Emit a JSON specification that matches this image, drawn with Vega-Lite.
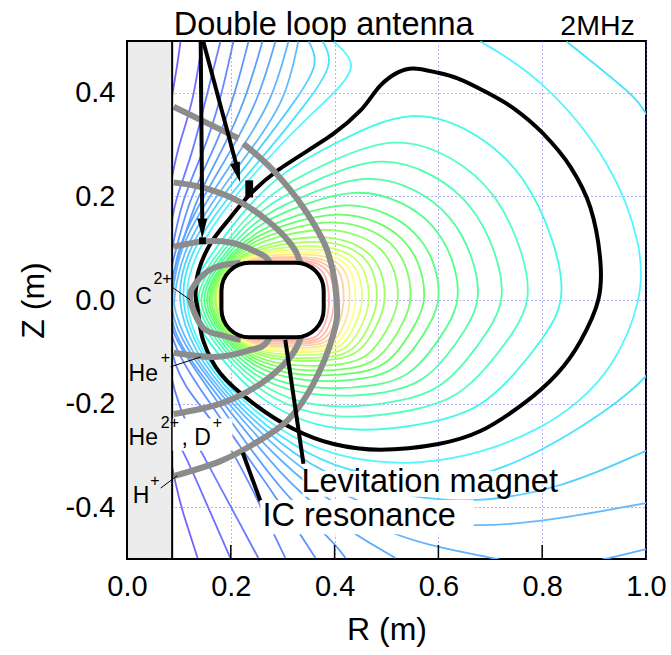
{"$schema":"https://vega.github.io/schema/vega-lite/v6.json","width":519,"height":518,"autosize":"none","padding":{"left":127,"top":41,"right":25,"bottom":96},"background":"white","view":{"stroke":"#000","strokeWidth":2,"fill":"white"},
"config":{"font":"Liberation Sans","text":{"font":"Liberation Sans"}},
"datasets":{
"contours":[
{"c":0,"r":0.103,"z":0.499},{"c":0,"r":0.097,"z":0.453},{"c":0,"r":0.088,"z":0.404},{"c":0,"r":0.03,"z":0.03},{"c":0,"r":0.088,"z":-0.349},{"c":0,"r":0.113,"z":-0.426},{"c":0,"r":0.136,"z":-0.498},
{"c":1,"r":0.145,"z":0.499},{"c":1,"r":0.128,"z":0.385},{"c":1,"r":0.103,"z":0.308},{"c":1,"r":0.088,"z":0.256},{"c":1,"r":0.05,"z":0},{"c":1,"r":0.088,"z":-0.262},{"c":1,"r":0.109,"z":-0.291},{"c":1,"r":0.151,"z":-0.388},{"c":1,"r":0.199,"z":-0.498},
{"c":2,"r":0.18,"z":0.499},{"c":2,"r":0.151,"z":0.385},{"c":2,"r":0.128,"z":0.289},{"c":2,"r":0.093,"z":0.192},{"c":2,"r":0.088,"z":0.163},{"c":2,"r":0.06,"z":0},{"c":2,"r":0.088,"z":-0.191},{"c":2,"r":0.142,"z":-0.291},{"c":2,"r":0.199,"z":-0.397},{"c":2,"r":0.253,"z":-0.498},
{"c":3,"r":0.205,"z":0.499},{"c":3,"r":0.18,"z":0.385},{"c":3,"r":0.149,"z":0.289},{"c":3,"r":0.105,"z":0.192},{"c":3,"r":0.088,"z":0.105},{"c":3,"r":0.07,"z":0},{"c":3,"r":0.088,"z":-0.137},{"c":3,"r":0.142,"z":-0.204},{"c":3,"r":0.199,"z":-0.282},{"c":3,"r":0.248,"z":-0.378},{"c":3,"r":0.305,"z":-0.498},
{"c":4,"r":0.234,"z":0.499},{"c":4,"r":0.205,"z":0.385},{"c":4,"r":0.167,"z":0.289},{"c":4,"r":0.118,"z":0.192},{"c":4,"r":0.088,"z":0.072},{"c":4,"r":0.07,"z":0},{"c":4,"r":0.088,"z":-0.094},{"c":4,"r":0.157,"z":-0.195},{"c":4,"r":0.199,"z":-0.256},{"c":4,"r":0.286,"z":-0.378},{"c":4,"r":0.363,"z":-0.498},
{"c":5,"r":0.261,"z":0.499},{"c":5,"r":0.228,"z":0.385},{"c":5,"r":0.184,"z":0.289},{"c":5,"r":0.13,"z":0.192},{"c":5,"r":0.088,"z":0.047},{"c":5,"r":0.075,"z":0},{"c":5,"r":0.088,"z":-0.069},{"c":5,"r":0.122,"z":-0.121},{"c":5,"r":0.199,"z":-0.233},{"c":5,"r":0.296,"z":-0.369},{"c":5,"r":0.4,"z":-0.469},{"c":5,"r":0.421,"z":-0.498},
{"c":6,"r":0.286,"z":0.499},{"c":6,"r":0.253,"z":0.385},{"c":6,"r":0.201,"z":0.289},{"c":6,"r":0.142,"z":0.192},{"c":6,"r":0.095,"z":0.095},{"c":6,"r":0.088,"z":0.028},{"c":6,"r":0.08,"z":0},{"c":6,"r":0.088,"z":-0.05},{"c":6,"r":0.107,"z":-0.098},{"c":6,"r":0.199,"z":-0.216},{"c":6,"r":0.296,"z":-0.339},{"c":6,"r":0.4,"z":-0.43},{"c":6,"r":0.517,"z":-0.498},
{"c":7,"r":0.311,"z":0.499},{"c":7,"r":0.28,"z":0.385},{"c":7,"r":0.219,"z":0.289},{"c":7,"r":0.153,"z":0.192},{"c":7,"r":0.099,"z":0.095},{"c":7,"r":0.088,"z":0.012},{"c":7,"r":0.085,"z":0},{"c":7,"r":0.088,"z":-0.034},{"c":7,"r":0.115,"z":-0.098},{"c":7,"r":0.199,"z":-0.206},{"c":7,"r":0.296,"z":-0.314},{"c":7,"r":0.4,"z":-0.397},{"c":7,"r":0.508,"z":-0.452},{"c":7,"r":0.604,"z":-0.479},{"c":7,"r":0.706,"z":-0.498},{"c":7,"r":0.816,"z":-0.523},{"c":7,"r":0.932,"z":-0.498},{"c":7,"r":1.0,"z":-0.481},
{"c":8,"r":0.33,"z":0.499},{"c":8,"r":0.306,"z":0.385},{"c":8,"r":0.238,"z":0.289},{"c":8,"r":0.165,"z":0.192},{"c":8,"r":0.107,"z":0.095},{"c":8,"r":0.09,"z":0.003},{"c":8,"r":0.09,"z":-0.017},{"c":8,"r":0.12,"z":-0.098},{"c":8,"r":0.199,"z":-0.198},{"c":8,"r":0.296,"z":-0.295},{"c":8,"r":0.4,"z":-0.372},{"c":8,"r":0.527,"z":-0.421},{"c":8,"r":0.668,"z":-0.44},{"c":8,"r":0.816,"z":-0.426},{"c":8,"r":1.0,"z":-0.392},
{"c":9,"r":0.35,"z":0.499},{"c":9,"r":0.372,"z":0.457},{"c":9,"r":0.325,"z":0.385},{"c":9,"r":0.253,"z":0.289},{"c":9,"r":0.176,"z":0.192},{"c":9,"r":0.115,"z":0.095},{"c":9,"r":0.093,"z":0},{"c":9,"r":0.128,"z":-0.098},{"c":9,"r":0.199,"z":-0.191},{"c":9,"r":0.296,"z":-0.28},{"c":9,"r":0.4,"z":-0.349},{"c":9,"r":0.556,"z":-0.382},{"c":9,"r":0.668,"z":-0.392},{"c":9,"r":0.835,"z":-0.365},{"c":9,"r":1.0,"z":-0.291},
{"c":10,"r":0.377,"z":0.499},{"c":10,"r":0.4,"z":0.457},{"c":10,"r":0.35,"z":0.385},{"c":10,"r":0.273,"z":0.289},{"c":10,"r":0.188,"z":0.192},{"c":10,"r":0.122,"z":0.095},{"c":10,"r":0.099,"z":0},{"c":10,"r":0.136,"z":-0.098},{"c":10,"r":0.199,"z":-0.183},{"c":10,"r":0.296,"z":-0.268},{"c":10,"r":0.4,"z":-0.324},{"c":10,"r":0.508,"z":-0.345},{"c":10,"r":0.604,"z":-0.349},{"c":10,"r":0.733,"z":-0.334},{"c":10,"r":1.0,"z":-0.171},{"c":10,"r":1.07,"z":-0.05},{"c":10,"r":1.08,"z":0.2},{"c":10,"r":1.0,"z":0.368},{"c":10,"r":0.97,"z":0.4},{"c":10,"r":0.847,"z":0.499},
{"c":11,"r":0.398,"z":0.499},{"c":11,"r":0.445,"z":0.457},{"c":11,"r":0.411,"z":0.41},{"c":11,"r":0.348,"z":0.352},{"c":11,"r":0.29,"z":0.294},{"c":11,"r":0.199,"z":0.192},{"c":11,"r":0.132,"z":0.095},{"c":11,"r":0.105,"z":0},{"c":11,"r":0.142,"z":-0.098},{"c":11,"r":0.199,"z":-0.175},{"c":11,"r":0.296,"z":-0.256},{"c":11,"r":0.4,"z":-0.301},{"c":11,"r":0.488,"z":-0.314},{"c":11,"r":0.565,"z":-0.316},{"c":11,"r":0.681,"z":-0.297},{"c":11,"r":0.797,"z":-0.249},{"c":11,"r":0.868,"z":-0.2},{"c":11,"r":0.937,"z":-0.131},{"c":11,"r":0.993,"z":0},{"c":11,"r":0.993,"z":0.101},{"c":11,"r":0.937,"z":0.263},{"c":11,"r":0.801,"z":0.428},{"c":11,"r":0.681,"z":0.499}
],
"closed":[
{"c":12,"r":0.802,"z":-0.075},{"c":12,"r":0.848,"z":0},{"c":12,"r":0.824,"z":0.115},{"c":12,"r":0.768,"z":0.24},{"c":12,"r":0.681,"z":0.321},{"c":12,"r":0.552,"z":0.376},{"c":12,"r":0.402,"z":0.304},{"c":12,"r":0.296,"z":0.246},{"c":12,"r":0.219,"z":0.167},{"c":12,"r":0.151,"z":0.072},{"c":12,"r":0.107,"z":0},{"c":12,"r":0.151,"z":-0.075},{"c":12,"r":0.244,"z":-0.191},{"c":12,"r":0.392,"z":-0.263},{"c":12,"r":0.598,"z":-0.239},{"c":12,"r":0.687,"z":-0.204},{"c":12,"r":0.745,"z":-0.146},
{"c":13,"r":0.742,"z":-0.068},{"c":13,"r":0.782,"z":0},{"c":13,"r":0.76,"z":0.104},{"c":13,"r":0.71,"z":0.208},{"c":13,"r":0.632,"z":0.276},{"c":13,"r":0.516,"z":0.321},{"c":13,"r":0.379,"z":0.262},{"c":13,"r":0.284,"z":0.213},{"c":13,"r":0.216,"z":0.146},{"c":13,"r":0.156,"z":0.066},{"c":13,"r":0.118,"z":0},{"c":13,"r":0.157,"z":-0.07},{"c":13,"r":0.242,"z":-0.174},{"c":13,"r":0.377,"z":-0.236},{"c":13,"r":0.563,"z":-0.215},{"c":13,"r":0.641,"z":-0.184},{"c":13,"r":0.692,"z":-0.132},
{"c":14,"r":0.695,"z":-0.062},{"c":14,"r":0.731,"z":0},{"c":14,"r":0.711,"z":0.096},{"c":14,"r":0.666,"z":0.184},{"c":14,"r":0.595,"z":0.243},{"c":14,"r":0.489,"z":0.282},{"c":14,"r":0.362,"z":0.231},{"c":14,"r":0.276,"z":0.189},{"c":14,"r":0.213,"z":0.131},{"c":14,"r":0.159,"z":0.061},{"c":14,"r":0.126,"z":0},{"c":14,"r":0.161,"z":-0.066},{"c":14,"r":0.24,"z":-0.161},{"c":14,"r":0.365,"z":-0.215},{"c":14,"r":0.536,"z":-0.197},{"c":14,"r":0.605,"z":-0.169},{"c":14,"r":0.651,"z":-0.122},
{"c":15,"r":0.653,"z":-0.057},{"c":15,"r":0.684,"z":0},{"c":15,"r":0.666,"z":0.089},{"c":15,"r":0.625,"z":0.163},{"c":15,"r":0.561,"z":0.214},{"c":15,"r":0.464,"z":0.246},{"c":15,"r":0.346,"z":0.204},{"c":15,"r":0.268,"z":0.168},{"c":15,"r":0.211,"z":0.118},{"c":15,"r":0.163,"z":0.057},{"c":15,"r":0.133,"z":0},{"c":15,"r":0.165,"z":-0.063},{"c":15,"r":0.238,"z":-0.15},{"c":15,"r":0.355,"z":-0.19},{"c":15,"r":0.511,"z":-0.181},{"c":15,"r":0.573,"z":-0.155},{"c":15,"r":0.614,"z":-0.112},
{"c":16,"r":0.617,"z":-0.053},{"c":16,"r":0.644,"z":0},{"c":16,"r":0.629,"z":0.083},{"c":16,"r":0.591,"z":0.147},{"c":16,"r":0.532,"z":0.191},{"c":16,"r":0.442,"z":0.217},{"c":16,"r":0.332,"z":0.182},{"c":16,"r":0.261,"z":0.151},{"c":16,"r":0.209,"z":0.107},{"c":16,"r":0.165,"z":0.053},{"c":16,"r":0.14,"z":0},{"c":16,"r":0.169,"z":-0.06},{"c":16,"r":0.237,"z":-0.14},{"c":16,"r":0.346,"z":-0.175},{"c":16,"r":0.49,"z":-0.167},{"c":16,"r":0.545,"z":-0.144},{"c":16,"r":0.582,"z":-0.104},
{"c":17,"r":0.583,"z":-0.049},{"c":17,"r":0.606,"z":0},{"c":17,"r":0.593,"z":0.077},{"c":17,"r":0.558,"z":0.131},{"c":17,"r":0.504,"z":0.169},{"c":17,"r":0.422,"z":0.191},{"c":17,"r":0.32,"z":0.162},{"c":17,"r":0.254,"z":0.135},{"c":17,"r":0.207,"z":0.097},{"c":17,"r":0.168,"z":0.049},{"c":17,"r":0.146,"z":0},{"c":17,"r":0.172,"z":-0.057},{"c":17,"r":0.236,"z":-0.13},{"c":17,"r":0.337,"z":-0.16},{"c":17,"r":0.47,"z":-0.154},{"c":17,"r":0.519,"z":-0.132},{"c":17,"r":0.552,"z":-0.097},
{"c":18,"r":0.557,"z":-0.046},{"c":18,"r":0.578,"z":0},{"c":18,"r":0.565,"z":0.072},{"c":18,"r":0.533,"z":0.12},{"c":18,"r":0.483,"z":0.153},{"c":18,"r":0.407,"z":0.172},{"c":18,"r":0.31,"z":0.148},{"c":18,"r":0.249,"z":0.124},{"c":18,"r":0.206,"z":0.09},{"c":18,"r":0.17,"z":0.047},{"c":18,"r":0.151,"z":0},{"c":18,"r":0.175,"z":-0.055},{"c":18,"r":0.235,"z":-0.123},{"c":18,"r":0.331,"z":-0.149},{"c":18,"r":0.455,"z":-0.143},{"c":18,"r":0.499,"z":-0.124},{"c":18,"r":0.529,"z":-0.091},
{"c":19,"r":0.533,"z":-0.043},{"c":19,"r":0.551,"z":0},{"c":19,"r":0.54,"z":0.068},{"c":19,"r":0.511,"z":0.111},{"c":19,"r":0.464,"z":0.14},{"c":19,"r":0.393,"z":0.156},{"c":19,"r":0.301,"z":0.135},{"c":19,"r":0.245,"z":0.114},{"c":19,"r":0.204,"z":0.084},{"c":19,"r":0.172,"z":0.044},{"c":19,"r":0.155,"z":0},{"c":19,"r":0.177,"z":-0.053},{"c":19,"r":0.234,"z":-0.116},{"c":19,"r":0.325,"z":-0.139},{"c":19,"r":0.441,"z":-0.134},{"c":19,"r":0.481,"z":-0.116},{"c":19,"r":0.509,"z":-0.085},
{"c":20,"r":0.51,"z":-0.041},{"c":20,"r":0.526,"z":0},{"c":20,"r":0.516,"z":0.064},{"c":20,"r":0.489,"z":0.102},{"c":20,"r":0.446,"z":0.127},{"c":20,"r":0.379,"z":0.14},{"c":20,"r":0.292,"z":0.124},{"c":20,"r":0.24,"z":0.104},{"c":20,"r":0.203,"z":0.078},{"c":20,"r":0.174,"z":0.042},{"c":20,"r":0.159,"z":0},{"c":20,"r":0.179,"z":-0.051},{"c":20,"r":0.233,"z":-0.11},{"c":20,"r":0.319,"z":-0.13},{"c":20,"r":0.428,"z":-0.125},{"c":20,"r":0.463,"z":-0.109},{"c":20,"r":0.488,"z":-0.08},
{"c":21,"r":0.487,"z":-0.038},{"c":21,"r":0.5,"z":0},{"c":21,"r":0.491,"z":0.06},{"c":21,"r":0.466,"z":0.093},{"c":21,"r":0.427,"z":0.115},{"c":21,"r":0.365,"z":0.125},{"c":21,"r":0.283,"z":0.112},{"c":21,"r":0.236,"z":0.095},{"c":21,"r":0.202,"z":0.073},{"c":21,"r":0.175,"z":0.039},{"c":21,"r":0.165,"z":0},{"c":21,"r":0.181,"z":-0.049},{"c":21,"r":0.232,"z":-0.104},{"c":21,"r":0.313,"z":-0.12},{"c":21,"r":0.414,"z":-0.116},{"c":21,"r":0.445,"z":-0.101},{"c":21,"r":0.468,"z":-0.075},
{"c":22,"r":0.473,"z":-0.036},{"c":22,"r":0.485,"z":0},{"c":22,"r":0.476,"z":0.058},{"c":22,"r":0.453,"z":0.088},{"c":22,"r":0.416,"z":0.108},{"c":22,"r":0.357,"z":0.115},{"c":22,"r":0.278,"z":0.105},{"c":22,"r":0.233,"z":0.09},{"c":22,"r":0.201,"z":0.069},{"c":22,"r":0.177,"z":0.038},{"c":22,"r":0.168,"z":0},{"c":22,"r":0.183,"z":-0.048},{"c":22,"r":0.232,"z":-0.1},{"c":22,"r":0.31,"z":-0.114},{"c":22,"r":0.406,"z":-0.111},{"c":22,"r":0.435,"z":-0.096},{"c":22,"r":0.456,"z":-0.072},
{"c":23,"r":0.459,"z":-0.035},{"c":23,"r":0.469,"z":0},{"c":23,"r":0.461,"z":0.055},{"c":23,"r":0.439,"z":0.083},{"c":23,"r":0.404,"z":0.101},{"c":23,"r":0.348,"z":0.106},{"c":23,"r":0.273,"z":0.099},{"c":23,"r":0.231,"z":0.085},{"c":23,"r":0.2,"z":0.066},{"c":23,"r":0.178,"z":0.036},{"c":23,"r":0.17,"z":0},{"c":23,"r":0.184,"z":-0.047},{"c":23,"r":0.231,"z":-0.096},{"c":23,"r":0.306,"z":-0.108},{"c":23,"r":0.398,"z":-0.105},{"c":23,"r":0.424,"z":-0.092},{"c":23,"r":0.443,"z":-0.068},
{"c":24,"r":0.446,"z":-0.033},{"c":24,"r":0.456,"z":0},{"c":24,"r":0.448,"z":0.053},{"c":24,"r":0.427,"z":0.079},{"c":24,"r":0.394,"z":0.096},{"c":24,"r":0.341,"z":0.099},{"c":24,"r":0.268,"z":0.094},{"c":24,"r":0.228,"z":0.081},{"c":24,"r":0.2,"z":0.064},{"c":24,"r":0.179,"z":0.035},{"c":24,"r":0.172,"z":0},{"c":24,"r":0.185,"z":-0.046},{"c":24,"r":0.231,"z":-0.092},{"c":24,"r":0.303,"z":-0.102},{"c":24,"r":0.39,"z":-0.1},{"c":24,"r":0.414,"z":-0.088},{"c":24,"r":0.432,"z":-0.066},
{"c":25,"r":0.436,"z":-0.032},{"c":25,"r":0.442,"z":0},{"c":25,"r":0.437,"z":0.051},{"c":25,"r":0.417,"z":0.076},{"c":25,"r":0.385,"z":0.091},{"c":25,"r":0.335,"z":0.094},{"c":25,"r":0.264,"z":0.09},{"c":25,"r":0.226,"z":0.078},{"c":25,"r":0.199,"z":0.062},{"c":25,"r":0.179,"z":0.034},{"c":25,"r":0.173,"z":0},{"c":25,"r":0.186,"z":-0.045},{"c":25,"r":0.23,"z":-0.089},{"c":25,"r":0.301,"z":-0.098},{"c":25,"r":0.384,"z":-0.096},{"c":25,"r":0.406,"z":-0.084},{"c":25,"r":0.423,"z":-0.063},
{"c":26,"r":0.425,"z":-0.031},{"c":26,"r":0.431,"z":0},{"c":26,"r":0.426,"z":0.049},{"c":26,"r":0.407,"z":0.073},{"c":26,"r":0.377,"z":0.087},{"c":26,"r":0.328,"z":0.089},{"c":26,"r":0.26,"z":0.086},{"c":26,"r":0.224,"z":0.075},{"c":26,"r":0.199,"z":0.06},{"c":26,"r":0.18,"z":0.033},{"c":26,"r":0.175,"z":0},{"c":26,"r":0.187,"z":-0.044},{"c":26,"r":0.23,"z":-0.086},{"c":26,"r":0.298,"z":-0.093},{"c":26,"r":0.378,"z":-0.092},{"c":26,"r":0.398,"z":-0.081},{"c":26,"r":0.413,"z":-0.061},
{"c":27,"r":0.414,"z":-0.029},{"c":27,"r":0.419,"z":0},{"c":27,"r":0.415,"z":0.048},{"c":27,"r":0.397,"z":0.07},{"c":27,"r":0.368,"z":0.082},{"c":27,"r":0.322,"z":0.084},{"c":27,"r":0.256,"z":0.082},{"c":27,"r":0.222,"z":0.072},{"c":27,"r":0.198,"z":0.058},{"c":27,"r":0.181,"z":0.032},{"c":27,"r":0.176,"z":0},{"c":27,"r":0.188,"z":-0.043},{"c":27,"r":0.229,"z":-0.083},{"c":27,"r":0.295,"z":-0.089},{"c":27,"r":0.372,"z":-0.088},{"c":27,"r":0.39,"z":-0.077},{"c":27,"r":0.404,"z":-0.058},
{"c":28,"r":0.405,"z":-0.028},{"c":28,"r":0.41,"z":0},{"c":28,"r":0.405,"z":0.046},{"c":28,"r":0.388,"z":0.067},{"c":28,"r":0.361,"z":0.079},{"c":28,"r":0.317,"z":0.081},{"c":28,"r":0.253,"z":0.079},{"c":28,"r":0.22,"z":0.069},{"c":28,"r":0.198,"z":0.056},{"c":28,"r":0.182,"z":0.031},{"c":28,"r":0.178,"z":0},{"c":28,"r":0.189,"z":-0.042},{"c":28,"r":0.229,"z":-0.081},{"c":28,"r":0.293,"z":-0.085},{"c":28,"r":0.367,"z":-0.084},{"c":28,"r":0.383,"z":-0.074},{"c":28,"r":0.396,"z":-0.056},
{"c":29,"r":0.397,"z":-0.027},{"c":29,"r":0.4,"z":0},{"c":29,"r":0.396,"z":0.044},{"c":29,"r":0.38,"z":0.065},{"c":29,"r":0.354,"z":0.076},{"c":29,"r":0.312,"z":0.077},{"c":29,"r":0.249,"z":0.076},{"c":29,"r":0.219,"z":0.067},{"c":29,"r":0.197,"z":0.055},{"c":29,"r":0.182,"z":0.03},{"c":29,"r":0.179,"z":0},{"c":29,"r":0.19,"z":-0.042},{"c":29,"r":0.229,"z":-0.078},{"c":29,"r":0.291,"z":-0.081},{"c":29,"r":0.361,"z":-0.081},{"c":29,"r":0.376,"z":-0.071},{"c":29,"r":0.388,"z":-0.054},
{"c":30,"r":0.388,"z":-0.026},{"c":30,"r":0.39,"z":0},{"c":30,"r":0.386,"z":0.043},{"c":30,"r":0.371,"z":0.063},{"c":30,"r":0.347,"z":0.074},{"c":30,"r":0.306,"z":0.074},{"c":30,"r":0.246,"z":0.074},{"c":30,"r":0.217,"z":0.065},{"c":30,"r":0.197,"z":0.054},{"c":30,"r":0.183,"z":0.029},{"c":30,"r":0.18,"z":0},{"c":30,"r":0.191,"z":-0.041},{"c":30,"r":0.228,"z":-0.076},{"c":30,"r":0.289,"z":-0.078},{"c":30,"r":0.356,"z":-0.077},{"c":30,"r":0.369,"z":-0.068},{"c":30,"r":0.38,"z":-0.052}
],
"resonance":[
{"s":"H1","r":0.09,"z":0.373},{"s":"H1","r":0.215,"z":0.312},
{"s":"H2","r":0.224,"z":0.302},{"s":"H2","r":0.282,"z":0.25},{"s":"H2","r":0.34,"z":0.178},{"s":"H2","r":0.386,"z":0.095},{"s":"H2","r":0.404,"z":0},{"s":"H2","r":0.398,"z":-0.065},{"s":"H2","r":0.359,"z":-0.162},{"s":"H2","r":0.309,"z":-0.233},{"s":"H2","r":0.244,"z":-0.278},{"s":"H2","r":0.18,"z":-0.311},{"s":"H2","r":0.09,"z":-0.34},
{"s":"He2","r":0.09,"z":0.227},{"s":"He2","r":0.147,"z":0.217},{"s":"He2","r":0.213,"z":0.192},{"s":"He2","r":0.271,"z":0.153},{"s":"He2","r":0.315,"z":0.109},{"s":"He2","r":0.334,"z":0.072},{"s":"He2","r":0.355,"z":0},{"s":"He2","r":0.334,"z":-0.075},{"s":"He2","r":0.309,"z":-0.117},{"s":"He2","r":0.257,"z":-0.162},{"s":"He2","r":0.18,"z":-0.2},{"s":"He2","r":0.09,"z":-0.22},
{"s":"He1","r":0.09,"z":0.103},{"s":"He1","r":0.147,"z":0.113},{"s":"He1","r":0.199,"z":0.111},{"s":"He1","r":0.244,"z":0.095},{"s":"He1","r":0.276,"z":0.072},{"s":"He1","r":0.3,"z":0},{"s":"He1","r":0.271,"z":-0.079},{"s":"He1","r":0.232,"z":-0.098},{"s":"He1","r":0.167,"z":-0.11},{"s":"He1","r":0.09,"z":-0.102},
{"s":"C2","r":0.219,"z":0.072},{"s":"C2","r":0.167,"z":0.062},{"s":"C2","r":0.132,"z":0.032},{"s":"C2","r":0.122,"z":0},{"s":"C2","r":0.147,"z":-0.054},{"s":"C2","r":0.186,"z":-0.069},{"s":"C2","r":0.219,"z":-0.077}
],
"boundary":[
{"r":0.136,"z":-0.015},{"r":0.132,"z":0.012},{"r":0.138,"z":0.057},{"r":0.161,"z":0.109},{"r":0.199,"z":0.159},{"r":0.238,"z":0.205},{"r":0.29,"z":0.25},{"r":0.398,"z":0.321},{"r":0.45,"z":0.366},{"r":0.488,"z":0.414},{"r":0.521,"z":0.439},{"r":0.552,"z":0.447},{"r":0.598,"z":0.439},{"r":0.637,"z":0.428},{"r":0.687,"z":0.404},{"r":0.745,"z":0.37},{"r":0.802,"z":0.321},{"r":0.855,"z":0.256},{"r":0.893,"z":0.178},{"r":0.912,"z":0.076},{"r":0.908,"z":0},{"r":0.874,"z":-0.079},{"r":0.829,"z":-0.142},{"r":0.764,"z":-0.2},{"r":0.681,"z":-0.253},{"r":0.6,"z":-0.278},{"r":0.488,"z":-0.289},{"r":0.398,"z":-0.278},{"r":0.321,"z":-0.249},{"r":0.244,"z":-0.2},{"r":0.18,"z":-0.142},{"r":0.147,"z":-0.079},{"r":0.136,"z":-0.015},{"r":0.132,"z":0.012},{"r":0.138,"z":0.057}
],
"pointers":[
{"s":"lev","r":0.305,"z":-0.077},{"s":"lev","r":0.34,"z":-0.316},
{"s":"ic","r":0.223,"z":-0.295},{"s":"ic","r":0.257,"z":-0.388},
{"s":"a1","r":0.142,"z":0.499},{"s":"a1","r":0.145,"z":0.153},
{"s":"a2","r":0.147,"z":0.499},{"s":"a2","r":0.211,"z":0.26}
],
"leaders":[
{"s":"c","r":0.088,"z":0.024},{"s":"c","r":0.122,"z":0},
{"s":"he","r":0.084,"z":-0.129},{"s":"he","r":0.142,"z":-0.11},
{"s":"h","r":0.065,"z":-0.363},{"s":"h","r":0.097,"z":-0.339}
]
},
"encoding":{
"x":{"field":"r","type":"quantitative","scale":{"domain":[0,1],"nice":false,"zero":false},"axis":{"title":"R (m)","values":[0,0.2,0.4,0.6,0.8,1],"format":".1f","domain":false,"grid":true,"gridColor":"#6666ff","gridDash":[1,3],"gridWidth":1,"ticks":false,"labelFont":"Liberation Sans","labelFontSize":29,"labelColor":"#000","labelPadding":13,"labelFlush":false,"labelOverlap":false,"titleFont":"Liberation Sans","titleFontSize":32,"titleFontWeight":"normal","titleColor":"#000","titlePadding":13}},
"y":{"field":"z","type":"quantitative","scale":{"domain":[-0.5,0.5],"nice":false,"zero":false},"axis":{"title":"Z (m)","values":[-0.4,-0.2,0,0.2,0.4],"labelExpr":"(datum.value<-0.01?'-':'')+format(abs(datum.value),'.1f')","domain":false,"grid":true,"gridColor":"#6666ff","gridDash":[1,3],"gridWidth":1,"ticks":false,"labelFont":"Liberation Sans","labelFontSize":29,"labelColor":"#000","labelPadding":12,"labelOverlap":false,"titleFont":"Liberation Sans","titleFontSize":32,"titleFontWeight":"normal","titleColor":"#000","titlePadding":15}}
},
"layer":[
{"data":{"name":"contours"},"mark":{"type":"line","interpolate":"basis","strokeWidth":1.8,"clip":true},"encoding":{"detail":{"field":"c"},"order":{"value":null},"color":{"field":"c","type":"quantitative","legend":null,"scale":{"domain":[0,3,8,11,13,18,22,25,27,30],"range":["#7a60ff","#6688ff","#66bbff","#55f5ff","#55ffc0","#66ff66","#aaff66","#ffff88","#ffd0a0","#ffb0b0"]}}}},
{"data":{"name":"closed"},"mark":{"type":"line","interpolate":"basis-closed","strokeWidth":1.8,"clip":true},"encoding":{"detail":{"field":"c"},"order":{"value":null},"color":{"field":"c","type":"quantitative","legend":null,"scale":{"domain":[0,3,8,11,13,18,22,25,27,30],"range":["#7a60ff","#6688ff","#66bbff","#55f5ff","#55ffc0","#66ff66","#aaff66","#ffff88","#ffd0a0","#ffb0b0"]}}}},
{"data":{"name":"boundary"},"mark":{"type":"line","interpolate":"cardinal","tension":0,"stroke":"#000","strokeWidth":4,"clip":true},"encoding":{"order":{"value":null}}},
{"data":{"name":"resonance"},"mark":{"type":"line","interpolate":"cardinal","tension":0,"stroke":"#8c8c8c","strokeWidth":6,"clip":true},"encoding":{"detail":{"field":"s"},"order":{"value":null}}},
{"data":{"values":[{"r":0,"r2":0.087,"z":-0.5,"z2":0.5}]},"mark":{"type":"rect","fill":"#ececec","stroke":"#000","strokeWidth":2},"encoding":{"x2":{"field":"r2"},"y2":{"field":"z2"}}},
{"data":{"values":[{"r":0.182,"r2":0.379,"z":-0.072,"z2":0.072}]},"mark":{"type":"rect","fill":"#fff","stroke":"#000","strokeWidth":4,"cornerRadius":28},"encoding":{"x2":{"field":"r2"},"y2":{"field":"z2"}}},
{"data":{"name":"pointers"},"mark":{"type":"line","stroke":"#000","strokeWidth":4},"encoding":{"detail":{"field":"s"},"order":{"value":null}}},
{"data":{"values":[{"r":0.338,"r2":0.733,"z":-0.33,"z2":-0.38},{"r":0.257,"r2":0.668,"z":-0.386,"z2":-0.452},{"r":0.088,"r2":0.203,"z":-0.229,"z2":-0.291}]},"mark":{"type":"rect","fill":"#fff"},"encoding":{"x2":{"field":"r2"},"y2":{"field":"z2"}}},
{"data":{"values":[{"r":0.2,"z":-0.5,"z2":-0.473},{"r":0.4,"z":-0.5,"z2":-0.473},{"r":0.6,"z":-0.5,"z2":-0.473},{"r":0.8,"z":-0.5,"z2":-0.473}]},"mark":{"type":"rule","stroke":"#000","strokeWidth":1.5},"encoding":{"y2":{"field":"z2"}}},
{"data":{"values":[{"r":0.139,"r2":0.152,"z":0.121,"z2":0.108},{"r":0.228,"r2":0.243,"z":0.231,"z2":0.198}]},"mark":{"type":"rect","fill":"#000"},"encoding":{"x2":{"field":"r2"},"y2":{"field":"z2"}}},
{"data":{"values":[{"r":0.145,"z":0.138}]},"mark":{"type":"point","shape":"M0,1L-0.5,-1L0.5,-1Z","size":400,"filled":true,"fill":"#000","opacity":1,"strokeWidth":0}},
{"data":{"values":[{"r":0.213,"z":0.246}]},"mark":{"type":"point","shape":"M0,1L-0.5,-1L0.5,-1Z","size":400,"filled":true,"fill":"#000","opacity":1,"strokeWidth":0,"angle":-15}},
{"data":{"name":"leaders"},"mark":{"type":"line","stroke":"#000","strokeWidth":1},"encoding":{"detail":{"field":"s"},"order":{"value":null}}},
{"data":{"values":[{"t":"Double loop antenna","r":0.09,"z":0.511},{"t":"Levitation magnet","r":0.336,"z":-0.37},{"t":"IC resonance","r":0.261,"z":-0.436}]},"mark":{"type":"text","font":"Liberation Sans","fontSize":32.5,"align":"left","baseline":"alphabetic","fill":"#000"},"encoding":{"text":{"field":"t"}}},
{"data":{"values":[{"t":"2MHz","r":0.835,"z":0.511}]},"mark":{"type":"text","font":"Liberation Sans","fontSize":28.5,"align":"left","baseline":"alphabetic","fill":"#000"},"encoding":{"text":{"field":"t"}}},
{"data":{"values":[{"t":"C","r":0.016,"z":-0.007},{"t":"He","r":0.003,"z":-0.156},{"t":"He","r":0.003,"z":-0.28},{"t":", D","r":0.105,"z":-0.28},{"t":"H","r":0.011,"z":-0.392}]},"mark":{"type":"text","font":"Liberation Sans","fontSize":23,"align":"left","baseline":"alphabetic","fill":"#000"},"encoding":{"text":{"field":"t"}}},
{"data":{"values":[{"t":"2+","r":0.051,"z":0.031},{"t":"+","r":0.065,"z":-0.121},{"t":"2+","r":0.065,"z":-0.247},{"t":"+","r":0.165,"z":-0.247},{"t":"+","r":0.045,"z":-0.359}]},"mark":{"type":"text","font":"Liberation Sans","fontSize":16,"align":"left","baseline":"alphabetic","fill":"#000"},"encoding":{"text":{"field":"t"}}}
]
}
